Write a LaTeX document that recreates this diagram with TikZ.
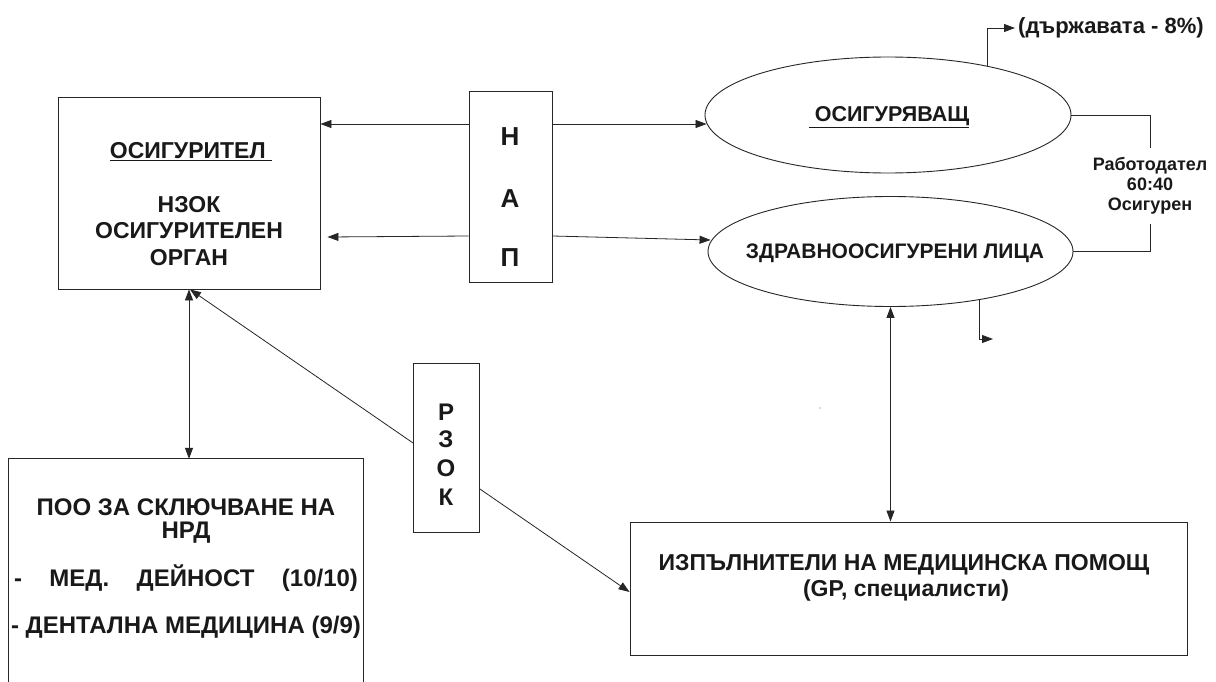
\documentclass[tikz,border=0pt]{standalone}
\usepackage{fontspec}
\setmainfont{Liberation Sans}
\usetikzlibrary{arrows.meta,shapes.geometric}
\begin{document}
\begin{tikzpicture}[x=1pt,y=-1pt,
  box/.style={draw=black!85, line width=0.9pt, fill=white, inner sep=0pt},
  boxline/.style={draw=black!85, line width=0.9pt},
  ell/.style={ellipse, draw=black!85, line width=0.9pt, inner sep=0pt},
  txt/.style={font=\fontsize{22}{26}\selectfont\bfseries, text=black!90, inner sep=0pt, align=center},
  lefttxt/.style={txt, font=\fontsize{23}{26.5}\selectfont\bfseries},
  pootxt/.style={txt, font=\fontsize{24}{23}\selectfont\bfseries},
  big/.style={font=\fontsize{26}{30}\selectfont\bfseries, text=black!90, inner sep=0pt},
  rz/.style={font=\fontsize{24}{28}\selectfont\bfseries, text=black!90, inner sep=0pt},
  small/.style={font=\fontsize{18}{20}\selectfont\bfseries, text=black!90, align=center},
  conn/.style={draw=black!85, line width=0.8pt},
  arr/.style={conn, -{Triangle[length=11pt,width=8pt]}},
  darr/.style={conn, {Triangle[length=11pt,width=8pt]}-{Triangle[length=11pt,width=8pt]}}]
\useasboundingbox (0,0) rectangle (1216,682);
\fill[white] (0,0) rectangle (1216,682);

% boxes
\node[box, minimum width=262pt, minimum height=192pt] (osig) at (189,193) {};
\node[box, minimum width=557pt, minimum height=133pt] (izp) at (908.5,588.5) {};
\node[box, minimum width=83pt, minimum height=191pt] (nap) at (510.5,186.5) {};
\node[ell, minimum width=366pt, minimum height=116pt] (ell1) at (888,115) {};
\node[ell, minimum width=365pt, minimum height=110pt] (ell2) at (890.5,251.5) {};
\node[inner sep=0pt, minimum width=354pt, minimum height=240pt] (poo) at (186,579) {};
\draw[boxline] (poo.south west) |- (poo.north east) -- (poo.south east);

% diagonal behind RZOK
\draw[darr] ([xshift=1pt]osig.south) -- ([yshift=-3.5pt]izp.west);
\node[box, minimum width=66pt, minimum height=169pt] (rzok) at (446,447.5) {};

% texts
\node[lefttxt] (t-osig) at (191,152) {\underline{ОСИГУРИТЕЛ\ }};
\node[lefttxt] (t-nzok) at (189,231) {НЗОК\\ОСИГУРИТЕЛЕН\\ОРГАН};
\node[big] (n1) at (510,137) {Н};
\node[big] (n2) at (510,199) {А};
\node[big] (n3) at (510,258) {П};
\node[rz] (r1) at (446,412) {Р};
\node[rz] (r2) at (446,439) {З};
\node[rz] (r3) at (446,468) {О};
\node[rz] (r4) at (446,497) {К};
\node[txt, font=\fontsize{21.5}{26}\selectfont\bfseries] (t-e1) at (889,117) {\underline{\ ОСИГУРЯВАЩ}};
\node[txt, font=\fontsize{21}{26}\selectfont\bfseries] (t-e2) at (895,253) {ЗДРАВНООСИГУРЕНИ ЛИЦА};
\node[txt, font=\fontsize{23}{26}\selectfont\bfseries] (t-izp1) at (904,565) {ИЗПЪЛНИТЕЛИ НА МЕДИЦИНСКА ПОМОЩ};
\node[txt, font=\fontsize{23}{26}\selectfont\bfseries] (t-izp2) at (906,591) {(GP, специалисти)};
\node[pootxt] (t-poo1) at (186,521) {ПОО ЗА СКЛЮЧВАНЕ НА\\НРД};
\node[pootxt] (t-poo2) at (186,578) {\makebox[344pt][s]{- МЕД. ДЕЙНОСТ (10/10)}};
\node[pootxt] (t-poo3) at (186,627) {- ДЕНТАЛНА МЕДИЦИНА (9/9)};
\node[small, inner xsep=0pt, inner ysep=9pt] (lbl) at (1150,186) {Работодател\\60:40\\Осигурен};
\node[txt, anchor=west, inner xsep=3pt] (state) at (1015,28) {(държавата - 8\%)};

% connectors
\draw[arr] ([yshift=62.5pt]nap.west) -- ([yshift=69pt]osig.east);
\draw[arr] ([yshift=-49.5pt]nap.west) -- ([xshift=7pt,yshift=-44pt]osig.east);
\draw[arr] ([yshift=62.5pt]nap.east) -- ([xshift=2pt,yshift=-9pt]ell1.west);
\draw[arr] ([yshift=-49.5pt]nap.east) -- ([xshift=3pt,yshift=11.5pt]ell2.west);
\draw[darr] (osig.south) -- (osig.south |- poo.north);
\draw[darr] (ell2.south) -- (ell2.south |- izp.north);
\draw[conn] (ell1.east) -| (lbl.north);
\draw[conn] (ell2.east) -| (lbl.south);
\coordinate (s0) at (987,66);
\draw[arr] (s0) |- (state.west);
\coordinate (b1) at (979,300);
\coordinate (b2) at (993,339);
\draw[arr] (b1) |- (b2);
\fill[black!60] (820,408) circle (0.7pt);
\end{tikzpicture}
\end{document}
